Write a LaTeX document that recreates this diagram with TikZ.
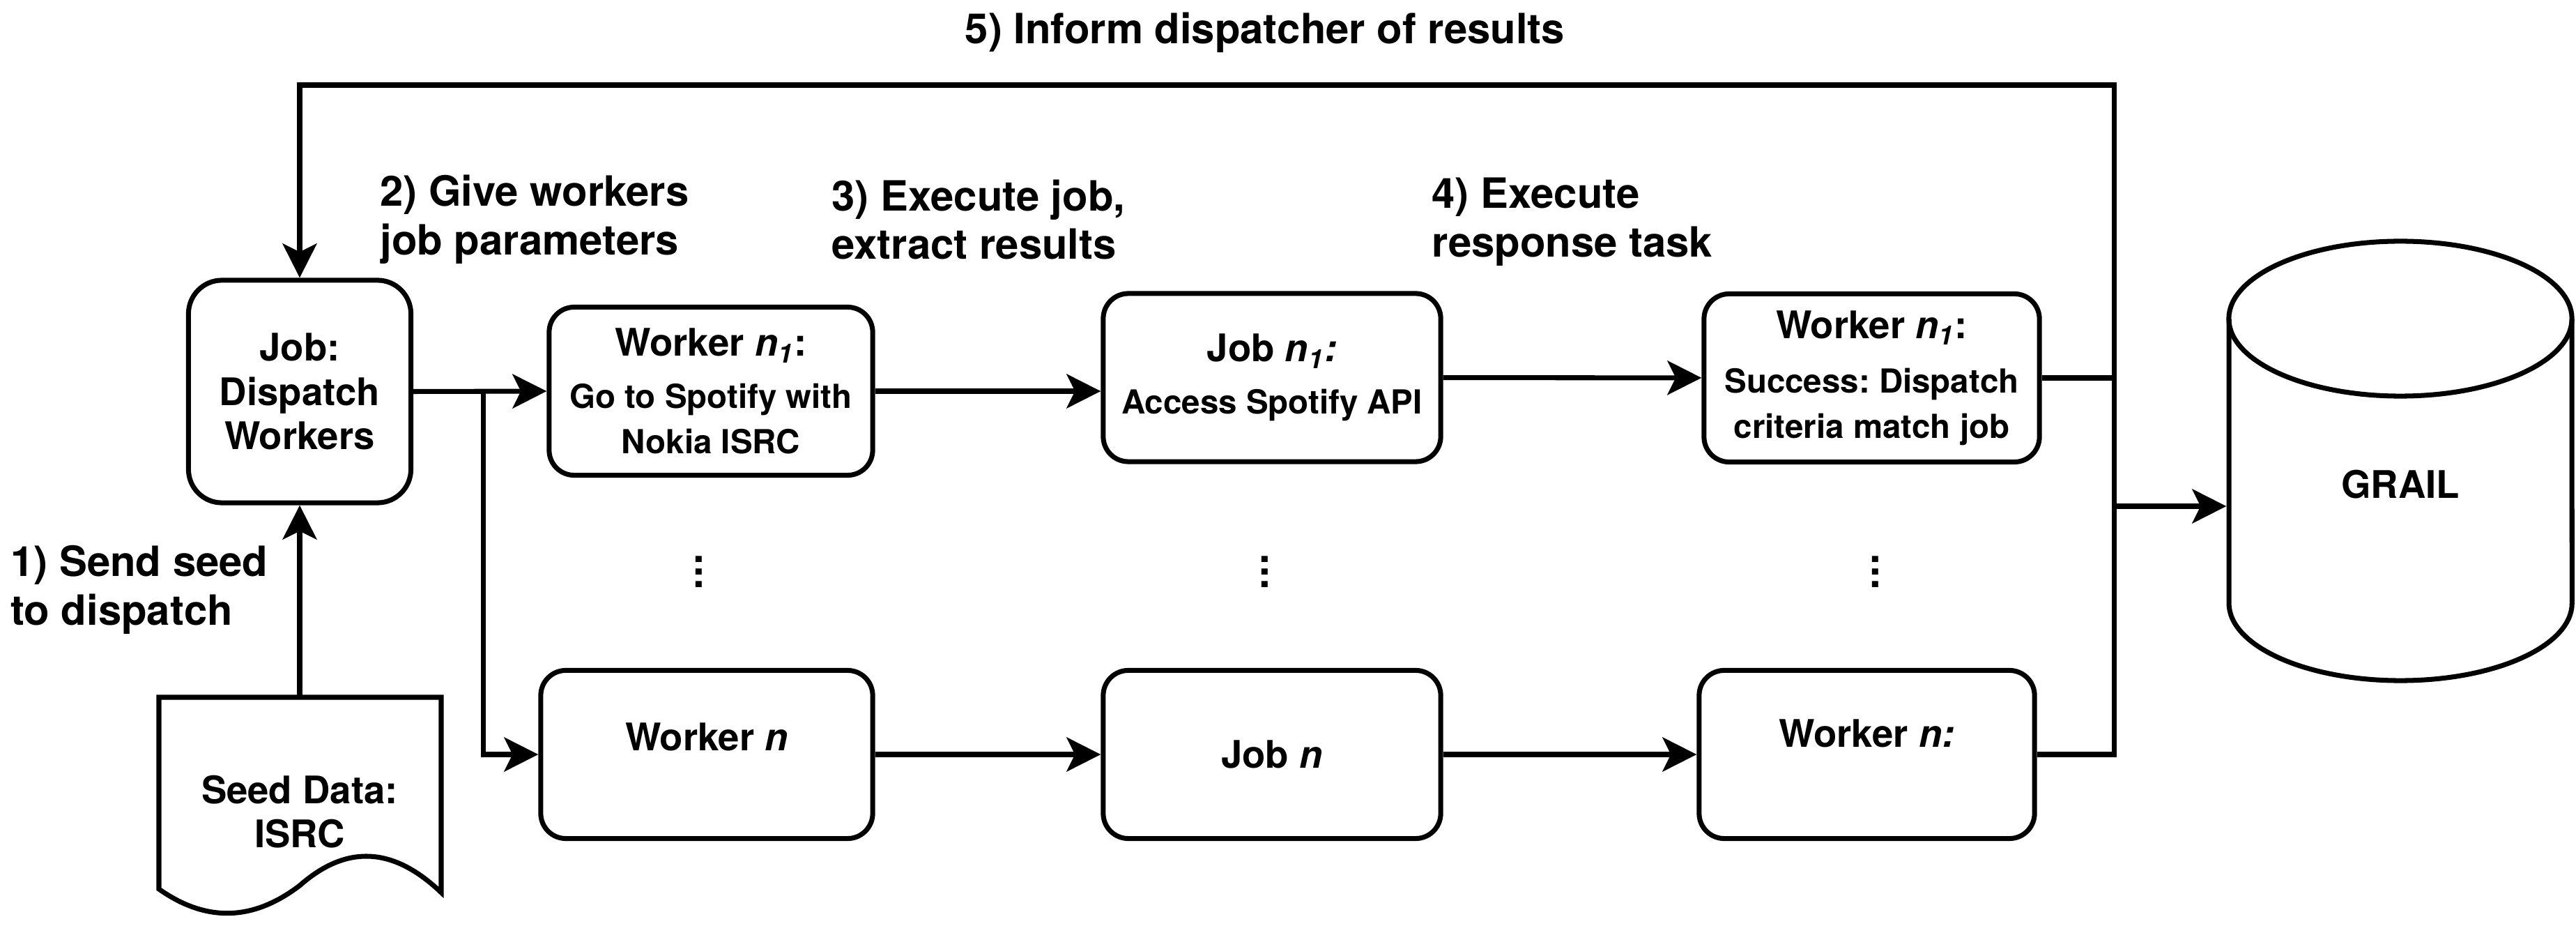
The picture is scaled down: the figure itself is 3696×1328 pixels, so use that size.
\documentclass[tikz,border=0pt]{standalone}
\usepackage{fontspec}
\setmainfont{TeX Gyre Heros}
\usetikzlibrary{arrows.meta,calc}
\frenchspacing

\newcommand{\hdrfont}{\bfseries\fontsize{15.5}{18.1}\selectfont}
\newcommand{\smallfont}{\bfseries\fontsize{13.5}{18.4}\selectfont}
\newcommand{\lblfont}{\bfseries\fontsize{17}{19.8}\selectfont}
\newcommand{\nsub}[1]{\textit{n\textsubscript{#1}}}

\tikzset{
  box/.style={draw, line width=2pt, rounded corners=0.36cm, minimum height=2.41cm, align=center, inner sep=0pt, font=\smallfont},
  arr/.style={-{Stealth[length=0.49cm,width=0.49cm,inset=0.12cm]}, line width=2pt},
  lbl/.style={font=\lblfont, align=left, inner sep=0pt},
  dotcol/.style={font=\bfseries\fontsize{17}{5.1}\selectfont, align=center, inner sep=0pt}
}

\begin{document}
\begin{tikzpicture}[x=0.01cm, y=-0.01cm, line width=2pt]
\useasboundingbox (0,0) rectangle (3696,1328);

% dispatcher
\node[box, rounded corners=0.48cm, minimum width=3.19cm, minimum height=3.19cm, font=\hdrfont] (disp) at (430,561.5) {Job:\\Dispatch\\Workers};

% first row
\node[box, minimum width=4.64cm] (wk1) at (1020,561) {{\hdrfont Worker \nsub{1}:}\\[2.9pt]Go to Spotify with\\Nokia ISRC};
\node[box, minimum width=4.84cm] (jb1) at (1825,541.5) {{\hdrfont Job \textit{n\textsubscript{1}:}}\\[2.9pt]Access Spotify API};
\node[box, minimum width=4.81cm] (wn1) at (2685.5,542) {{\hdrfont Worker \nsub{1}:}\\[3.9pt]Success: Dispatch\\criteria match job};

% last row
\node[box, minimum width=4.76cm, font=\hdrfont, text height=0.40cm, text depth=0.50cm] (wkn) at (1014,1082) {Worker \textit{n}};
\node[box, minimum width=4.84cm, font=\hdrfont] (jbn) at (1825,1082) {Job \textit{n}};
\node[box, minimum width=4.81cm, font=\hdrfont, text height=0.40cm, text depth=0.60cm] (wnn) at (2678.5,1082) {Worker \textit{n:}};

\node[dotcol] (dots1) at (1003,820) {.\\.\\.};
\node[dotcol] (dots2) at (1815,820) {.\\.\\.};
\node[dotcol] (dots3) at (2691,820) {.\\.\\.};

% seed document
\node[font=\hdrfont, align=center, inner sep=0pt] (seed) at (430,1164) {Seed Data:\\ISRC};
\draw (228,1000) -- (633,1000) -- (633,1280) .. controls (564,1214) and (497,1211) .. (430,1270) .. controls (363,1321) and (296,1323) .. (228,1275) -- cycle;
\coordinate (seedtop) at (430,1000);

% database
\draw (3198,457) -- (3198,865) arc[start angle=180, end angle=360, x radius=2.46cm, y radius=1.11cm] -- (3690,457);
\draw (3444,457) ellipse [x radius=2.46cm, y radius=1.11cm];
\node[font=\hdrfont, minimum width=4.92cm, inner sep=0pt] (grail) at (3444,695) {GRAIL};

% connectors
\coordinate (split) at ($(disp.east)+(100,0)$);
\coordinate (bus) at (3033,122);
\coordinate (tap) at (3033,726);
\draw[arr] (seedtop) -- (disp.south);
\draw[arr] (disp.east) -- (wk1.west);
\draw[arr] (split) |- (wkn.west);
\draw[arr] (wk1.east) -- (wk1.east -| jb1.west);
\draw[arr] (jb1) -- (wn1);
\draw[arr] (wkn) -- (jbn);
\draw[arr] (jbn) -- (wnn);
\draw (wn1.east) -- (wn1.east -| bus);
\draw[arr] (wnn.east) -| (bus) -| (disp.north);
\draw[arr] (tap) -- (tap -| grail.west);

% step labels
\node[lbl] (title) at (1815,47) {5) Inform dispatcher of results};
\node[lbl, anchor=west] (lab1) at (12,846) {1) Send seed\\to dispatch};
\node[lbl, anchor=west] (lab2) at (542,315) {2) Give workers\\job parameters};
\node[lbl, anchor=west] (lab3) at (1190,315) {3) Execute job,\\extract results};
\node[lbl, anchor=west] (lab4) at (2051,318) {4) Execute\\response task};
\end{tikzpicture}
\end{document}
